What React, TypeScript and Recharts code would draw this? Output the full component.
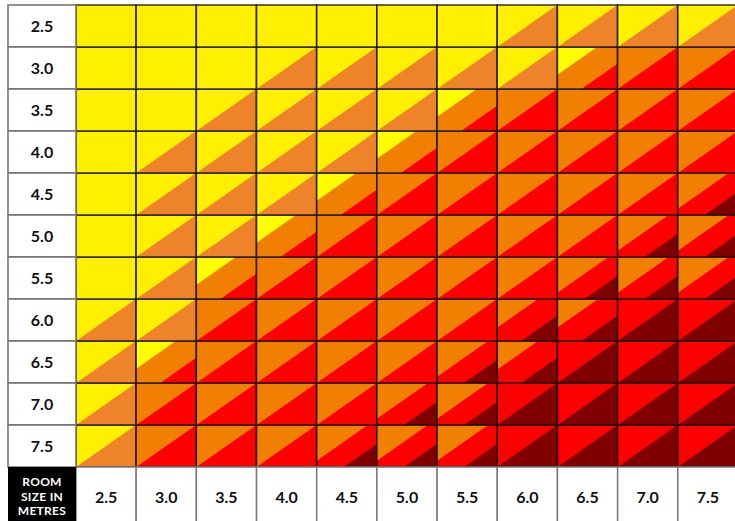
import React from 'react'
import { BarChart, Bar, XAxis, YAxis } from 'recharts'

// room sizes along each side
const colLabels = ['2.5', '3.0', '3.5', '4.0', '4.5', '5.0', '5.5', '6.0', '6.5', '7.0', '7.5']
const rowLabels = ['2.5', '3.0', '3.5', '4.0', '4.5', '5.0', '5.5', '6.0', '6.5', '7.0', '7.5']

// band code of each cell, top row first
const row25 = ['Y', 'Y', 'Y', 'Y', 'Y', 'Y', 'Y', 'YL', 'YL', 'YL', 'YL']
const row30 = ['Y', 'Y', 'Y', 'YL', 'YL', 'YL', 'YL', 'YL', 'BOR', 'OR', 'OR']
const row35 = ['Y', 'Y', 'YL', 'YL', 'YL', 'YL', 'BOR', 'OR', 'OR', 'OR', 'OR']
const row40 = ['Y', 'YL', 'YL', 'YL', 'YL', 'BOR', 'OR', 'OR', 'OR', 'OR', 'OR']
const row45 = ['Y', 'YL', 'YL', 'YL', 'BOR', 'OR', 'OR', 'OR', 'OR', 'OR', 'ORD']
const row50 = ['Y', 'YL', 'YL', 'BOR', 'OR', 'OR', 'OR', 'OR', 'OR', 'ORD', 'ORD']
const row55 = ['Y', 'YL', 'BOR', 'OR', 'OR', 'OR', 'OR', 'OR', 'ORD', 'ORD', 'ORD']
const row60 = ['YL', 'YL', 'OR', 'OR', 'OR', 'OR', 'OR', 'ORd', 'ORd', 'RD', 'RD']
const row65 = ['YL', 'BOR', 'OR', 'OR', 'OR', 'OR', 'ORD', 'ORd', 'RD', 'RD', 'RD']
const row70 = ['YL', 'OR', 'OR', 'OR', 'OR', 'ORD', 'ORD', 'RD', 'RD', 'RD', 'RD']
const row75 = ['YL', 'OR', 'OR', 'OR', 'ORD', 'ORD', 'ORD', 'RD', 'RD', 'RD', 'RD']
const cellRows = [row25, row30, row35, row40, row45, row50, row55, row60, row65, row70, row75]

// colours of each band and where the bands change along the cell diagonal (0..2)
const bandColors: Record<string, string> = {
  Y: '#FFF000',
  B: '#FFFF00',
  L: '#EF8329',
  O: '#F28000',
  R: '#FF0000',
  D: '#800000',
}
const bandTypes: Record<string, { names: string[]; cuts: number[] }> = {
  Y: { names: ['Y'], cuts: [] },
  YL: { names: ['Y', 'L'], cuts: [1] },
  OR: { names: ['O', 'R'], cuts: [1] },
  RD: { names: ['R', 'D'], cuts: [1] },
  BOR: { names: ['B', 'O', 'R'], cuts: [0.66, 1.4] },
  ORD: { names: ['O', 'R', 'D'], cuts: [0.85, 1.45] },
  ORd: { names: ['O', 'R', 'D'], cuts: [0.68, 1.4] },
}

const CHART_W = 738
const CHART_H = 521
const MARGIN = { top: 5, right: 0, left: 8, bottom: 0 }
const Y_W = 68
const X_H = 54
const colW = (CHART_W - MARGIN.left - MARGIN.right - Y_W) / colLabels.length
const rowH = (CHART_H - MARGIN.top - MARGIN.bottom - X_H) / rowLabels.length
const FONT = 'Lato, "Open Sans", sans-serif'

const data = colLabels.map((col, ci) => {
  const d: any = { col, ci }
  rowLabels.forEach((_, ri) => {
    d['r' + ri] = 1
  })
  return d
})

const GridCell = (props: any) => {
  const { x, y, width, height, payload, ri } = props
  const band = bandTypes[cellRows[ri][payload.ci]]
  const pt = (u: number, w: number) => `${x + u * width},${y + w * height}`
  const region = (t: number) =>
    t <= 1
      ? [pt(0, 0), pt(t, 0), pt(0, t)]
      : [pt(0, 0), pt(1, 0), pt(1, t - 1), pt(t - 1, 1), pt(0, 1)]
  const order = band.cuts.map((_, k) => k).reverse()
  return (
    <g>
      <rect x={x} y={y} width={width} height={height} fill={bandColors[band.names[band.names.length - 1]]} />
      {order.map((k) => (
        <polygon key={k} points={region(band.cuts[k]).join(' ')} fill={bandColors[band.names[k]]} />
      ))}
      <rect x={x} y={y} width={width} height={height} fill="none" stroke="#111" strokeOpacity={0.85} strokeWidth={1.5} />
    </g>
  )
}

const RowTick = (props: any) => {
  const { x, y, payload } = props
  const label = rowLabels[Math.round(10.5 - payload.value)]
  return (
    <g>
      <rect x={x - Y_W} y={y - rowH / 2} width={Y_W} height={rowH} fill="#fff" stroke="#6f6f6f" strokeWidth={1.5} />
      <text x={x - Y_W / 2} y={y} dy="0.36em" textAnchor="middle" fontFamily={FONT} fontWeight={700} fontSize={16} fill="#111">
        {label}
      </text>
    </g>
  )
}

const ColTick = (props: any) => {
  const { x, y, payload } = props
  return (
    <g>
      <rect x={x - colW / 2} y={y} width={colW} height={X_H + 10} fill="#fff" stroke="#7a7a7a" strokeWidth={1.5} />
      <text x={x} y={y + 30} dy="0.36em" textAnchor="middle" fontFamily={FONT} fontWeight={700} fontSize={16} fill="#111">
        {payload.value}
      </text>
    </g>
  )
}

const App = () => {
  const stackOrder = rowLabels.map((_, ri) => ri).reverse()
  return (
    <div style={{ position: 'absolute', left: 0, top: 0, width: 735, height: 521, overflow: 'hidden', background: '#fff' }}>
      <BarChart width={CHART_W} height={CHART_H} data={data} margin={MARGIN} barCategoryGap={0} barGap={0}>
        <XAxis
          dataKey="col"
          interval={0}
          height={X_H}
          tickLine={false}
          axisLine={false}
          tickSize={0}
          tickMargin={0}
          tick={<ColTick />}
        />
        <YAxis
          type="number"
          domain={[0, 11]}
          ticks={rowLabels.map((_, i) => 10.5 - i)}
          interval={0}
          width={Y_W}
          tickLine={false}
          axisLine={false}
          tickSize={0}
          tickMargin={0}
          tick={<RowTick />}
        />
        {stackOrder.map((ri) => (
          <Bar
            key={ri}
            dataKey={'r' + ri}
            stackId="grid"
            isAnimationActive={false}
            shape={(p: any) => <GridCell {...p} ri={ri} />}
          />
        ))}
      </BarChart>
      <div
        style={{
          position: 'absolute',
          left: 8,
          top: 467,
          width: 68,
          height: 60,
          background: '#000',
          color: '#fff',
          fontFamily: FONT,
          fontWeight: 700,
          fontSize: 12,
          lineHeight: '14.5px',
          letterSpacing: 0.3,
          textAlign: 'center',
          paddingTop: 8,
          boxSizing: 'border-box',
        }}
      >
        <div>ROOM</div>
        <div>SIZE IN</div>
        <div>METRES</div>
      </div>
    </div>
  )
}

export default App
